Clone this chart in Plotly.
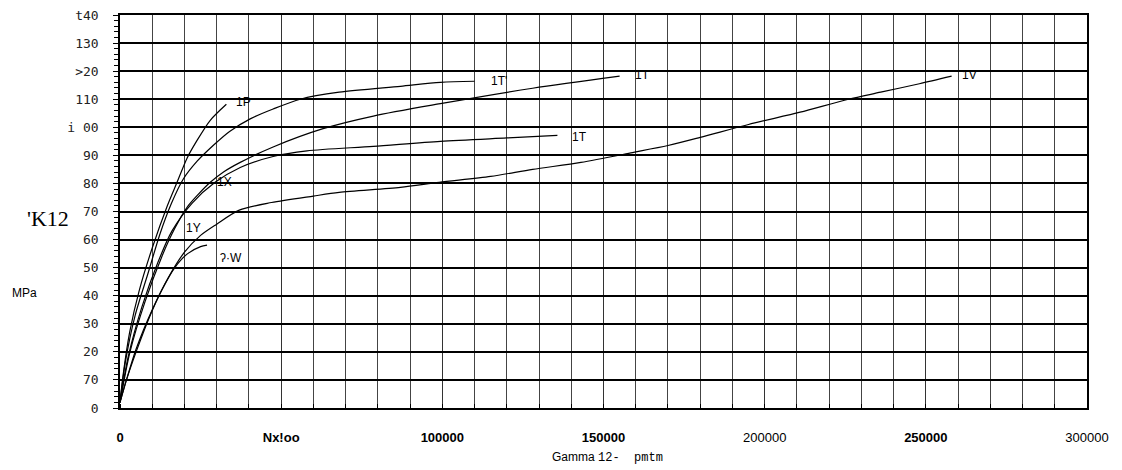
import plotly.graph_objects as go

# ---- data ----
p_x = [0, 1000, 3000, 6000, 10000, 14600, 17700, 20800, 24000, 28000, 33000]
p_y = [2, 12, 27, 42, 57, 71.8, 80.4, 89, 95.5, 102.5, 108.2]

tp_x = [0, 1600, 4700, 8700, 12400, 16000, 19600, 24000, 28900, 34000, 40400, 47500, 55900, 68000, 87000, 99400, 110000]
tp_y = [2, 16, 33, 48, 62, 73, 81.5, 88, 93.5, 98.5, 103, 106.5, 110, 112.5, 114.6, 116, 116.4]

tl_x = [0, 3100, 7800, 13000, 17000, 20800, 24200, 28000, 32000, 37300, 47500, 63000, 78600, 99400, 128000, 155000]
tl_y = [2, 20, 38, 54, 64, 71.5, 76, 80.4, 84, 87.5, 93, 99.5, 104, 108.4, 113.9, 118.2]

tm_x = [0, 2500, 6800, 11800, 16100, 22400, 29500, 37300, 47500, 58000, 78600, 99400, 120000, 135700]
tm_y = [2, 18, 36, 52, 63, 73, 80.4, 85.7, 89.6, 91.6, 93.2, 95, 96.2, 97.1]

v_x = [0, 2000, 5000, 10000, 15000, 20000, 25000, 30000, 37000, 47000, 60000, 68000, 87000, 99000,
       115000, 128000, 143000, 159000, 170000, 180000, 195000, 211000, 226000, 236000, 248000, 258000]
v_y = [2, 10, 21, 35, 46.5, 55.5, 61.5, 65.5, 70.5, 73.2, 75.5, 76.8, 78.6, 80.4,
       82.5, 85, 87.5, 91, 93.5, 96.4, 101, 105.4, 110, 112.5, 115.5, 118.2]

w_x = [0, 2000, 5000, 9000, 13000, 17000, 21000, 25000, 27000]
w_y = [2, 10, 20, 32, 42, 50, 55, 57.5, 58]

series = [(p_x, p_y), (tp_x, tp_y), (tl_x, tl_y), (tm_x, tm_y), (v_x, v_y), (w_x, w_y)]

x_tickvals = [0, 50000, 100000, 150000, 200000, 250000, 300000]
x_ticktext = ["<b>0</b>", "<b>Nx!oo</b>", "<b>100000</b>", "<b>150000</b>", "200000", "<b>250000</b>", "300000"]
y_tickvals = [0, 10, 20, 30, 40, 50, 60, 70, 80, 90, 100, 110, 120, 130, 140]
y_ticktext = ["0", "70", "20", "30", "40", "50", "60", "70", "80", "90", "i 00", "110", ">20", "130", "t40"]

curve_labels = [("1P", 35300, 109), ("1T'", 114500, 116.4), ("1T", 159000, 118.6),
                ("1T", 139500, 96.4), ("1V", 260500, 118.6), ("1X", 29500, 80.4),
                ("1Y", 20000, 64.3), ("ʔ·W", 30500, 53.6)]

fig = go.Figure()
for sx, sy in series:
    fig.add_trace(go.Scatter(x=sx, y=sy, mode="lines",
                             line=dict(color="black", width=1.2, shape="spline", smoothing=0.8),
                             showlegend=False, hoverinfo="skip"))

for t, ax, ay in curve_labels:
    fig.add_annotation(x=ax, y=ay, text=t, showarrow=False, xanchor="left", yanchor="middle",
                       font=dict(family="Arial, Liberation Sans", size=12, color="black"))

# page has an 8px body margin; plot area in window pixels: x 120..1087, y 15..408
W, L = 967.0, 120.0
H, T = 393.0, 15.0
def px(x):
    return (x - L) / W
def py(y):
    return (T + H - y) / H

fig.add_annotation(text="'K12", xref="paper", yref="paper", x=px(48), y=py(218), xanchor="center",
                   yanchor="middle", showarrow=False,
                   font=dict(family="Liberation Serif, Times New Roman", size=22, color="black"))
fig.add_annotation(text="MPa", xref="paper", yref="paper", x=px(24), y=py(293), xanchor="center",
                   yanchor="middle", showarrow=False,
                   font=dict(family="Arial, Liberation Sans", size=12, color="black"))
fig.add_annotation(text="Gamma <span style='font-family:Liberation Mono, Courier New'>12-  pmtm</span>",
                   xref="paper", yref="paper", x=px(607), y=py(458), xanchor="center",
                   yanchor="middle", showarrow=False,
                   font=dict(family="Arial, Liberation Sans", size=12, color="black"))

fig.update_layout(
    width=1114, height=462, margin=dict(l=112, r=35, t=7, b=62),
    plot_bgcolor="white", paper_bgcolor="white",
    xaxis=dict(range=[0, 300000], tickvals=x_tickvals, ticktext=x_ticktext, showgrid=True, automargin=False,
               gridcolor="#333", gridwidth=1, showline=True, linecolor="black", linewidth=1.5, mirror=True,
               ticks="", zeroline=False, ticklabelstandoff=17, ticklabeloverflow="allow",
               tickfont=dict(family="Arial, Liberation Sans", size=13, color="black"),
               minor=dict(dtick=10000, showgrid=True, gridcolor="#444", gridwidth=1, ticks="inside",
                          ticklen=4, tickcolor="black")),
    yaxis=dict(range=[0, 140], tickvals=y_tickvals, ticktext=y_ticktext, showgrid=True, automargin=False,
               gridcolor="black", gridwidth=1.6, showline=True, linecolor="black", linewidth=1.5, mirror=True,
               ticks="outside", ticklen=5, tickcolor="black", zeroline=False, ticklabelstandoff=12,
               ticklabeloverflow="allow",
               tickfont=dict(family="DejaVu Sans Mono", size=13, color="#222"),
               minor=dict(dtick=2, ticks="outside", ticklen=4, tickcolor="black", showgrid=False)),
)

fig.write_html("out.html")
